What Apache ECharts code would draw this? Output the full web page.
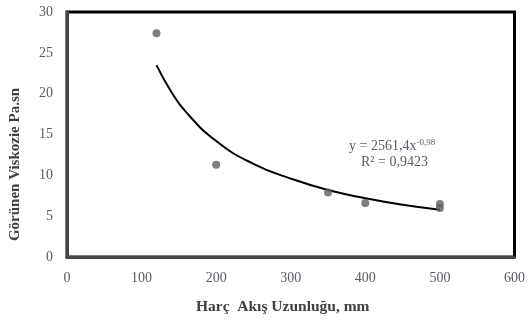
<!DOCTYPE html>
<html>
<head>
<meta charset="utf-8">
<script src="https://cdn.jsdelivr.net/npm/echarts@6/dist/echarts.min.js"></script>
<style>
  html, body {margin: 0; padding: 0; background: #fff;}
  #main {width: 528px; height: 323px;}
</style>
</head>
<body>
<div id="main"></div>
<script>
// measured points
const flowLength = [120, 200, 350, 400, 500, 500];
const viscosity = [27.4, 11.3, 7.9, 6.6, 6.5, 6.0];
// trend line (power fit shown on chart)
const trendX = [120, 140, 160, 200, 250, 300, 350, 400, 450, 500];
const trendY = [23.5, 20.2, 17.7, 14.2, 11.4, 9.6, 8.2, 7.2, 6.4, 5.8];

const axisFont = {fontFamily: 'Liberation Serif', fontSize: 14, color: '#5b5b66'};

const chart = echarts.init(document.getElementById('main'));
chart.setOption({
  animation: false,
  grid: {
    left: 67, right: 13, top: 12, bottom: 66,
    show: true, borderColor: '#000', borderWidth: 3, backgroundColor: '#fff'
  },
  xAxis: {
    type: 'value', min: 0, max: 600, interval: 100,
    name: 'Harç  Akış Uzunluğu, mm', nameLocation: 'middle', nameGap: 42,
    nameTextStyle: {fontFamily: 'Liberation Serif', fontSize: 15.5, fontWeight: 'bold', color: '#404040', padding: [0, 16, 0, 0]},
    axisLine: {lineStyle: {color: '#444', width: 3}},
    axisTick: {show: false},
    splitLine: {show: false},
    axisLabel: Object.assign({margin: 14}, axisFont)
  },
  yAxis: {
    type: 'value', min: 0, max: 30, interval: 5,
    name: 'Görünen Viskozie Pa.sn', nameLocation: 'middle', nameGap: 44,
    nameTextStyle: {fontFamily: 'Liberation Serif', fontSize: 15, fontWeight: 'bold', color: '#404040', padding: [0, 60, 0, 0]},
    axisLine: {show: true, lineStyle: {color: '#444', width: 3}},
    axisTick: {show: false},
    splitLine: {show: false},
    axisLabel: Object.assign({margin: 14}, axisFont)
  },
  graphic: [{
    type: 'text', left: 349, top: 138,
    style: {
      rich: {
        t: {fontFamily: 'Liberation Serif', fontSize: 14, fill: '#5b5b66'},
        s: {fontFamily: 'Liberation Serif', fontSize: 9, fill: '#5b5b66', verticalAlign: 'top', padding: [0, 0, 8, 0]},
        r: {fontFamily: 'Liberation Serif', fontSize: 14, fill: '#5b5b66', padding: [0, 0, 0, 12]}
      },
      text: '{t|y = 2561,4x}{s|-0,98}\n{r|R² = 0,9423}'
    }
  }],
  series: [
    {
      type: 'line',
      data: trendX.map((x, i) => [x, trendY[i]]),
      smooth: true,
      showSymbol: false,
      lineStyle: {color: '#000', width: 2},
      z: 2
    },
    {
      type: 'scatter',
      data: flowLength.map((x, i) => [x, viscosity[i]]),
      symbolSize: 8,
      itemStyle: {color: '#5f5f5f'},
      z: 3
    }
  ]
});
</script>
</body>
</html>
